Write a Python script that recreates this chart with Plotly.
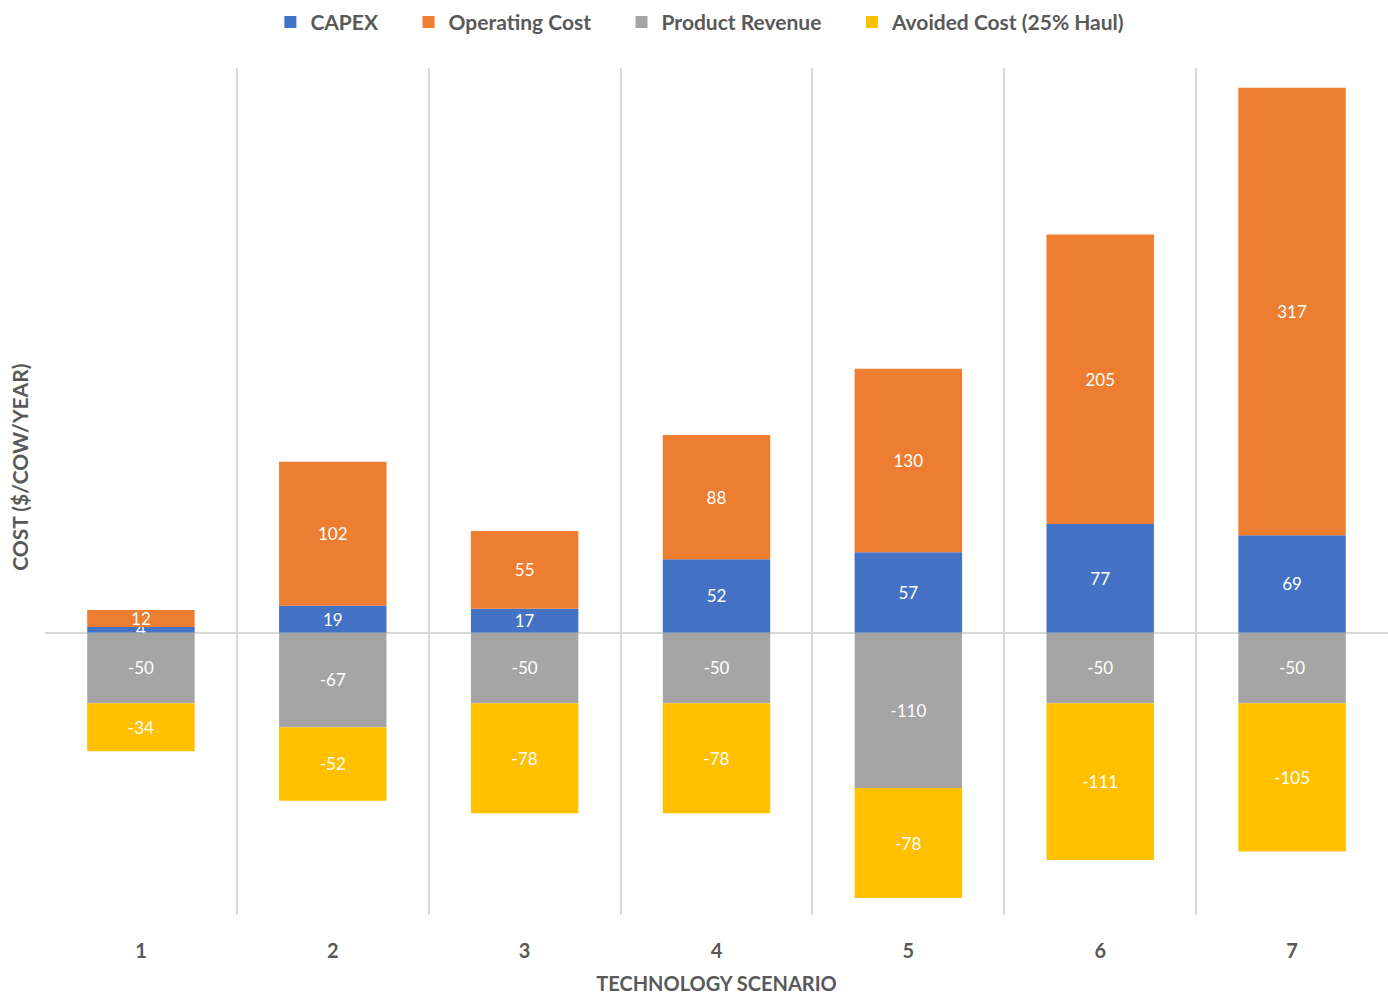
import plotly.graph_objects as go

scenarios = [1, 2, 3, 4, 5, 6, 7]
scenario_labels = ["1", "2", "3", "4", "5", "6", "7"]

capex = [4, 19, 17, 52, 57, 77, 69]
operating_cost = [12, 102, 55, 88, 130, 205, 317]
product_revenue = [-50, -67, -50, -50, -110, -50, -50]
avoided_cost = [-34, -52, -78, -78, -78, -111, -105]

NB = "\u00a0"
series = [
    ("CAPEX" + NB * 5, capex, "#4472C4"),
    ("Operating Cost" + NB * 5, operating_cost, "#ED7D31"),
    ("Product Revenue" + NB * 5, product_revenue, "#A5A5A5"),
    ("Avoided Cost (25% Haul)", avoided_cost, "#FFC000"),
]

FONT = "Lato, 'Open Sans', sans-serif"
GREY_TEXT = "#595959"
GRID = "#D9D9D9"

fig = go.Figure()
for name, vals, color in series:
    fig.add_trace(go.Bar(
        x=scenarios,
        y=vals,
        name=name,
        width=0.56,
        marker=dict(color=color, line=dict(width=0)),
        text=[str(v) for v in vals],
        textposition="inside",
        insidetextanchor="middle",
        constraintext="none",
        textangle=0,
        textfont=dict(color="white", size=17, family=FONT),
        cliponaxis=False,
    ))

fig.update_layout(
    barmode="relative",
    width=1388,
    height=998,
    paper_bgcolor="white",
    plot_bgcolor="white",
    margin=dict(l=45, r=0, t=68, b=83),
    font=dict(family=FONT, color=GREY_TEXT),
    legend=dict(
        orientation="h",
        x=0.488, xanchor="center",
        y=1.054, yanchor="middle",
        font=dict(size=21, color=GREY_TEXT, family=FONT, weight="bold"),
        itemsizing="constant",
        traceorder="normal",
        itemwidth=30,
    ),
    showlegend=True,
)

fig.update_xaxes(
    range=[0.5, 7.5],
    tickvals=scenarios,
    ticktext=scenario_labels,
    ticks="",
    ticklabelstandoff=22,
    tickfont=dict(size=20, color=GREY_TEXT, family=FONT, weight="bold"),
    showgrid=False,
    zeroline=False,
    showline=False,
    minor=dict(
        tickvals=[0.5, 1.5, 2.5, 3.5, 4.5, 5.5, 6.5, 7.5],
        showgrid=True,
        gridcolor=GRID,
        gridwidth=2,
        ticks="",
    ),
    title=dict(
        text="TECHNOLOGY SCENARIO",
        font=dict(size=20, color=GREY_TEXT, family=FONT, weight="bold"),
        standoff=15,
    ),
)

fig.update_yaxes(
    range=[-200, 400],
    showticklabels=False,
    showgrid=False,
    ticks="",
    zeroline=True,
    zerolinecolor=GRID,
    zerolinewidth=2,
    showline=False,
)

fig.add_annotation(
    text="COST ($/COW/YEAR)",
    xref="paper", yref="paper",
    x=-0.0186, y=0.528,
    xanchor="center", yanchor="middle",
    textangle=-90,
    showarrow=False,
    font=dict(size=21, color=GREY_TEXT, family=FONT, weight="bold"),
)

fig.write_html("out.html")
